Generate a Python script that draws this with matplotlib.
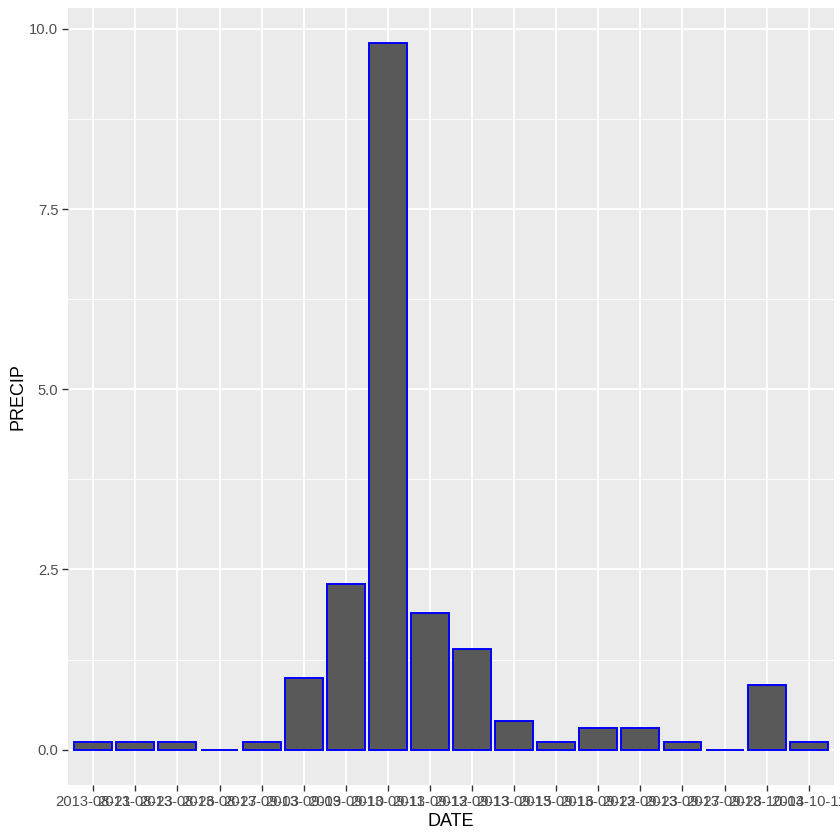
import matplotlib.pyplot as plt
import numpy as np

plt.rcParams['font.family'] = ['Liberation Sans', 'DejaVu Sans']

dates = ["2013-08-21", "2013-08-23", "2013-08-26", "2013-08-27", "2013-09-03",
         "2013-09-09", "2013-09-10", "2013-09-11", "2013-09-12", "2013-09-13",
         "2013-09-15", "2013-09-16", "2013-09-22", "2013-09-23", "2013-09-27",
         "2013-09-28", "2013-10-04", "2013-10-11"]
precip = [0.1, 0.1, 0.1, 0.0, 0.1, 1.0, 2.3, 9.8, 1.9, 1.4,
          0.4, 0.1, 0.3, 0.3, 0.1, 0.0, 0.9, 0.1]

fig = plt.figure(figsize=(8.4, 8.4), dpi=100)
ax = fig.add_axes([68 / 840, 55 / 840, (834 - 68) / 840, (832 - 55) / 840])
ax.set_facecolor("#EBEBEB")

x = np.arange(len(dates))
ax.bar(x, precip, width=0.9, color="#595959", edgecolor="blue", linewidth=1.4, zorder=3)

ax.set_xlim(-0.6, len(dates) - 0.4)
ax.set_ylim(-0.49, 10.29)
ax.set_xticks(x)
ax.set_xticklabels(dates)
ax.set_yticks([0, 2.5, 5, 7.5, 10])
ax.set_yticklabels(["0.0", "2.5", "5.0", "7.5", "10.0"])
ax.set_yticks([1.25, 3.75, 6.25, 8.75], minor=True)

ax.grid(True, which="major", color="white", linewidth=1.3, zorder=0)
ax.grid(True, which="minor", axis="y", color="white", linewidth=0.6, zorder=0)
ax.set_axisbelow(True)
for s in ax.spines.values():
    s.set_visible(False)

ax.tick_params(axis="both", which="major", length=4, width=1, color="#333333",
               labelcolor="#4D4D4D", labelsize=10.6, pad=3)
ax.tick_params(axis="both", which="minor", length=0)

ax.set_xlabel("DATE", fontsize=13, labelpad=3)
ax.set_ylabel("PRECIP", fontsize=13, labelpad=2)

fig.savefig("out.png", dpi=100)
